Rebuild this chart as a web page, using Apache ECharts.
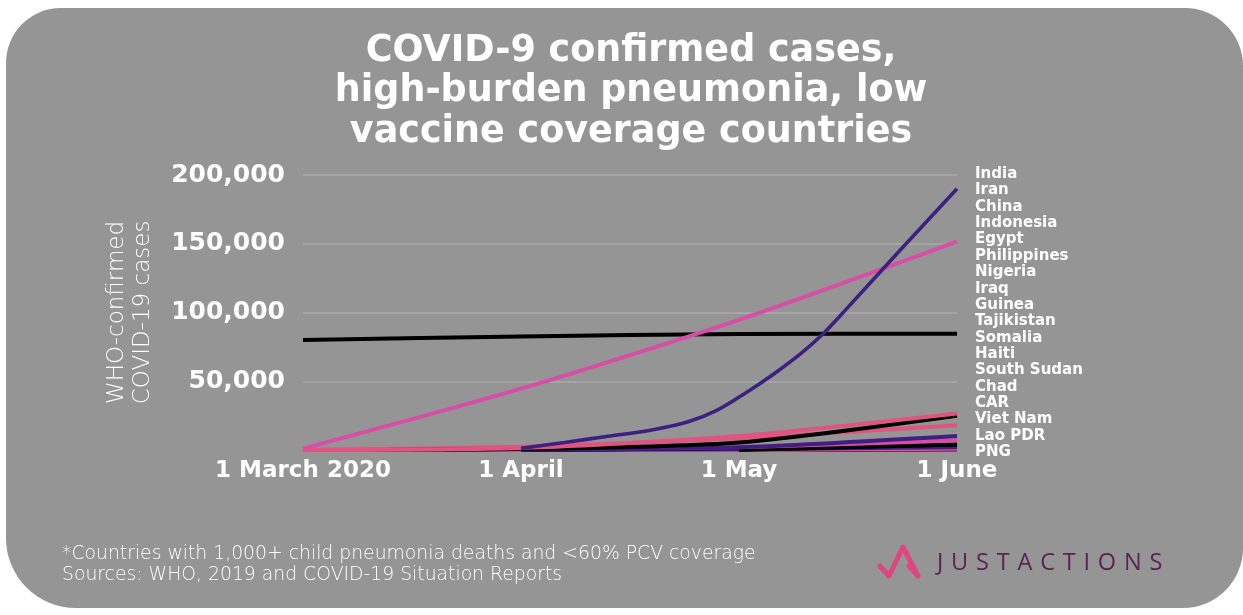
<!DOCTYPE html>
<html>
<head>
<meta charset="utf-8">
<script src="https://cdn.jsdelivr.net/npm/echarts@6/dist/echarts.min.js"></script>
<style>
  html, body { margin: 0; padding: 0; background: #fff; }
  #chart { width: 1243px; height: 615px; }
</style>
</head>
<body>
<div id="chart"></div>
<script>
// x tick labels, one per month start
const tickLabels = ['1 March 2020', '1 April', '1 May', '1 June'];
const monthDates = ['2020-03-01', '2020-04-01', '2020-05-01', '2020-06-01'];

const countries = ['India', 'Iran', 'China', 'Indonesia', 'Egypt', 'Philippines', 'Nigeria', 'Iraq', 'Guinea',
  'Tajikistan', 'Somalia', 'Haiti', 'South Sudan', 'Chad', 'CAR', 'Viet Nam', 'Lao PDR', 'PNG'];

const purple = '#3d2080';
const magenta = '#d84ea6';
const black = '#000000';
const coral = '#e0557f';
const lineColors = [purple, magenta, black, coral, black, coral, purple, magenta, black,
  black, purple, magenta, coral, black, purple, magenta, purple, black];

// India at more dates (steep curve)
const indiaDates = ['2020-04-01', '2020-04-07', '2020-04-13', '2020-04-19', '2020-04-24', '2020-04-28',
  '2020-05-02', '2020-05-06', '2020-05-10', '2020-05-13', '2020-05-16', '2020-05-24', '2020-06-01'];
const indiaCases = [1200, 5500, 10000, 14600, 20500, 29000,
  41700, 55500, 71000, 84700, 101000, 145800, 190000];

// monthly values: 1 Mar, 1 Apr, 1 May, 1 Jun (null = no cases reported yet)
const iranCases = [978, 44605, 94640, 151466];
const chinaCases = [79968, 82631, 84373, 84588];
const indonesiaCases = [0, 1528, 10118, 26473];
const egyptCases = [2, 710, 5537, 24985];
const philippinesCases = [3, 2311, 8488, 18086];
const nigeriaCases = [null, 174, 1932, 10162];
const iraqCases = [19, 694, 2085, 6868];
const guineaCases = [null, 22, 1495, 3844];
const tajikistanCases = [null, null, 15, 3930];
const somaliaCases = [null, 5, 601, 2089];
const haitiCases = [null, 15, 76, 2124];
const southSudanCases = [null, null, 35, 994];
const chadCases = [null, 5, 73, 790];
const carCases = [null, 3, 50, 1011];
const vietNamCases = [16, 212, 270, 328];
const laoCases = [null, 9, 19, 19];
const pngCases = [null, 1, 8, 8];

const monthly = [iranCases, chinaCases, indonesiaCases, egyptCases, philippinesCases, nigeriaCases, iraqCases,
  guineaCases, tajikistanCases, somaliaCases, haitiCases, southSudanCases, chadCases, carCases,
  vietNamCases, laoCases, pngCases];

// date -> position in months from 1 March
function monthPos(d) {
  const [y, m, day] = d.split('-').map(Number);
  const dim = new Date(y, m, 0).getDate();
  return (m - 3) + (day - 1) / dim;
}

function pairs(dates, vals) {
  const out = [];
  for (let i = 0; i < dates.length; i++) {
    if (vals[i] == null) continue;
    out.push([monthPos(dates[i]), vals[i]]);
  }
  return out;
}

const seriesData = [pairs(indiaDates, indiaCases)].concat(monthly.map(v => pairs(monthDates, v)));

const series = countries.map((name, i) => ({
  name: name,
  type: 'line',
  data: seriesData[i],
  smooth: i === 0 ? 0.3 : 0.25,
  symbol: 'none',
  z: 40 - i,
  color: lineColors[i],
  lineStyle: { color: lineColors[i], width: i === 0 ? 3.6 : 4 },
  emphasis: { disabled: true },
}));

const boldFont = 'DejaVu Sans';

const myChart = echarts.init(document.getElementById('chart'));
const option = {
  animation: false,
  backgroundColor: '#ffffff',
  graphic: [
    {
      type: 'rect',
      z: -10,
      shape: { x: 6, y: 8, width: 1237, height: 600, r: [55, 58, 60, 70] },
      style: { fill: '#959595' },
    },
    {
      type: 'text',
      z: 10,
      style: {
        x: 631,
        y: 31,
        text: 'COVID-9 confirmed cases,\nhigh-burden pneumonia, low\nvaccine coverage countries',
        textAlign: 'center',
        fill: '#ffffff',
        font: 'bold 36.5px "DejaVu Sans"',
        lineHeight: 40.5,
      },
    },
    {
      type: 'text',
      z: 10,
      style: {
        x: 62,
        y: 544,
        text: '*Countries with 1,000+ child pneumonia deaths and <60% PCV coverage\nSources: WHO, 2019 and COVID-19 Situation Reports',
        fill: '#ffffff',
        font: '200 18.8px "DejaVu Sans"',
        lineHeight: 21,
      },
    },
    {
      type: 'polyline',
      z: 10,
      shape: { points: [[880, 566], [889, 576], [903, 547], [918, 576], [909, 566]] },
      style: { stroke: '#e0457f', lineWidth: 5, fill: null, lineJoin: 'round', lineCap: 'round' },
    },
    {
      type: 'text',
      z: 10,
      style: {
        x: 937,
        y: 563,
        text: 'J\u2009\u2009U\u2009\u2009S\u2009\u2009T\u2009\u2009A\u2009\u2009C\u2009\u2009T\u2009\u2009I\u2009\u2009O\u2009\u2009N\u2009\u2009S',
        verticalAlign: 'middle',
        fill: '#5a2352',
        font: '23.5px "Open Sans"',
      },
    },
  ],
  grid: { left: 303, right: 286, top: 175, bottom: 165 },
  legend: {
    orient: 'vertical',
    left: 965,
    top: 161,
    icon: 'none',
    itemWidth: 0,
    itemHeight: 0,
    itemGap: 0,
    selectedMode: false,
    data: countries,
    textStyle: {
      color: '#ffffff',
      fontFamily: boldFont,
      fontWeight: 'bold',
      fontSize: 15,
      lineHeight: 16.35,
    },
  },
  xAxis: {
    type: 'value',
    min: 0,
    max: 3,
    interval: 1,
    axisLine: { show: false },
    axisTick: { show: false },
    splitLine: { show: false },
    axisLabel: {
      color: '#ffffff',
      fontFamily: boldFont,
      fontWeight: 'bold',
      fontSize: 23,
      margin: 10,
      formatter: v => tickLabels[Math.round(v)],
    },
  },
  yAxis: {
    type: 'value',
    min: 0,
    max: 200000,
    interval: 50000,
    name: 'WHO-confirmed\nCOVID-19 cases',
    nameLocation: 'middle',
    nameRotate: 90,
    nameGap: 147,
    nameTextStyle: {
      color: '#ffffff',
      fontFamily: 'DejaVu Sans',
      fontWeight: 200,
      fontSize: 23,
      lineHeight: 26,
    },
    axisLine: { show: false },
    axisTick: { show: false },
    splitLine: { lineStyle: { color: '#ababab', width: 1.5 } },
    axisLabel: {
      color: '#ffffff',
      fontFamily: boldFont,
      fontWeight: 'bold',
      fontSize: 25,
      margin: 18,
      formatter: v => (v === 0 ? '' : v.toLocaleString('en-US')),
    },
  },
  series: series,
};

option && myChart.setOption(option);
</script>
</body>
</html>
